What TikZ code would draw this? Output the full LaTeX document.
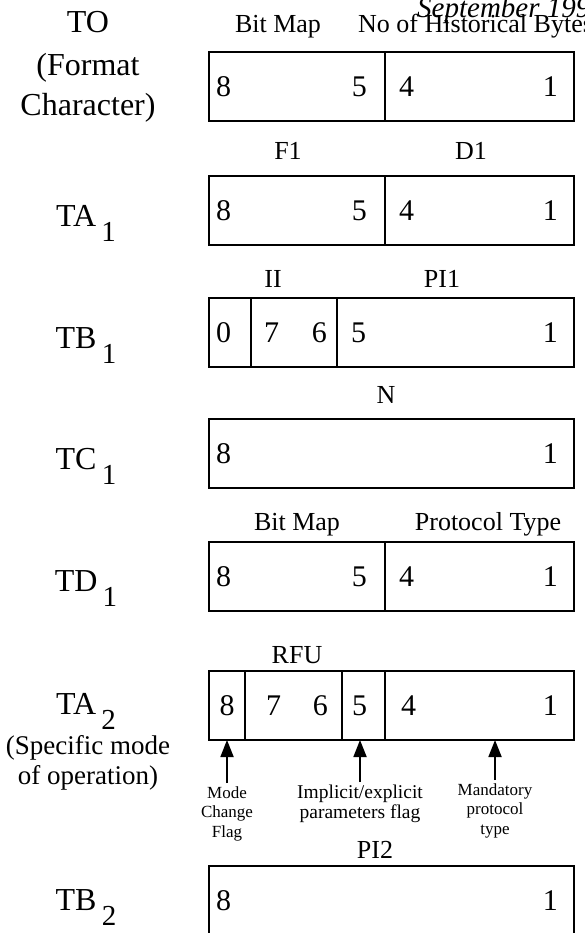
\documentclass[tikz,border=0pt]{standalone}
\usepackage{fontspec}
\setmainfont{Liberation Serif}
\usetikzlibrary{positioning}
\usetikzlibrary{arrows.meta}

\tikzset{
  field/.style={draw,line width=1.8pt,minimum height=69pt,inner sep=0pt,outer sep=0pt,anchor=north west},
  bit/.style={inner sep=0pt,font=\fontsize{30}{30}\selectfont},
  head/.style={inner sep=0pt,anchor=base,font=\fontsize{26}{26}\selectfont},
  reg/.style={inner sep=0pt,anchor=base,align=center,font=\fontsize{32}{40}\selectfont},
  note/.style={inner sep=0pt,anchor=north,align=center,font=\fontsize{17}{19.5}\selectfont},
  flag/.style={-{Triangle[length=17pt,width=13pt]},line width=1.8pt,shorten <=3pt}
}
\newcommand{\sub}[1]{\,\raisebox{-15pt}{\fontsize{29}{29}\selectfont #1}}

\begin{document}
\begin{tikzpicture}[x=1pt,y=-1pt]
\clip (0,0) rectangle (584,933);

% rows split 8..5 | 4..1
\foreach \r/\y in {to/52,taone/176,tdone/542}{
  \node[field,minimum width=176pt] (\r-a) at (209,\y) {};
  \node[field,minimum width=189pt] (\r-b) at (\r-a.north east) {};
  \node[bit,anchor=west] at ([xshift=7pt]\r-a.west) {8};
  \node[bit,anchor=east] at ([xshift=-18pt]\r-a.east) {5};
  \node[bit,anchor=west] at ([xshift=14pt]\r-b.west) {4};
  \node[bit,anchor=east] at ([xshift=-16pt]\r-b.east) {1};
}

% rows with one field 8..1
\foreach \r/\y in {tcone/419,tbtwo/866}{
  \node[field,minimum width=365pt] (\r-a) at (209,\y) {};
  \node[bit,anchor=west] at ([xshift=7pt]\r-a.west) {8};
  \node[bit,anchor=east] at ([xshift=-16pt]\r-a.east) {1};
}

% TB1
\node[field,minimum width=42pt] (tbone-a) at (209,298) {};
\node[field,minimum width=86pt] (tbone-b) at (tbone-a.north east) {};
\node[field,minimum width=237pt] (tbone-c) at (tbone-b.north east) {};
\node[bit,anchor=west] at ([xshift=7pt]tbone-a.west) {0};
\node[bit,anchor=west] at ([xshift=13pt]tbone-b.west) {7};
\node[bit,anchor=east] at ([xshift=-10pt]tbone-b.east) {6};
\node[bit,anchor=west] at ([xshift=14pt]tbone-c.west) {5};
\node[bit,anchor=east] at ([xshift=-16pt]tbone-c.east) {1};

% TA2
\node[field,minimum width=36pt] (tatwo-a) at (209,671) {};
\node[field,minimum width=97pt] (tatwo-b) at (tatwo-a.north east) {};
\node[field,minimum width=43pt] (tatwo-c) at (tatwo-b.north east) {};
\node[field,minimum width=189pt] (tatwo-d) at (tatwo-c.north east) {};
\node[bit] at (tatwo-a.center) {8};
\node[bit,anchor=west] at ([xshift=21pt]tatwo-b.west) {7};
\node[bit,anchor=east] at ([xshift=-14pt]tatwo-b.east) {6};
\node[bit,anchor=west] at ([xshift=10pt]tatwo-c.west) {5};
\node[bit,anchor=west] at ([xshift=16pt]tatwo-d.west) {4};
\node[bit,anchor=east] at ([xshift=-16pt]tatwo-d.east) {1};

% register names
\node[reg] (to) at (88,33) {TO};
\node[reg,anchor=north] (fmt) at (88,53) {(Format\\Character)};
\node[reg] (taone) at (86,226) {TA\sub{1}};
\node[reg] (tbone) at (86,348) {TB\sub{1}};
\node[reg] (tcone) at (86,469) {TC\sub{1}};
\node[reg] (tdone) at (86,591) {TD\sub{1}};
\node[reg] (tatwo) at (86,714) {TA\sub{2}};
\node[reg,anchor=north,font=\fontsize{27}{30}\selectfont] (mode) at (88,735) {(Specific mode\\of operation)};
\node[reg] (tbtwo) at (86,910) {TB\sub{2}};

% field names
\node[head] (bitmap0) at (278,33) {Bit Map};
\node[head,anchor=base west] (hist) at (358,33) {No of Historical Bytes};
\node[anchor=base west,inner sep=0pt,font=\fontsize{29}{29}\selectfont\itshape] (date) at (417,18) {September 1999};
\node[head] (fone) at (288,160) {F1};
\node[head] (done) at (471,160) {D1};
\node[head] (ii) at (273,287) {II};
\node[head] (pione) at (442,287) {PI1};
\node[head] (n) at (386,403) {N};
\node[head] (bitmap1) at (297,530) {Bit Map};
\node[head] (ptype) at (488,530) {Protocol Type};
\node[head] (rfu) at (297,663) {RFU};
\node[head] (pitwo) at (375,858) {PI2};

% flags under TA2
\node[note] (modeflag) at (227,786) {Mode\\Change\\Flag};
\node[note,font=\fontsize{19.5}{20}\selectfont] (impflag) at (360,785) {Implicit/explicit\\parameters flag};
\node[note] (mandflag) at (495,783) {Mandatory\\protocol\\type};
\draw[flag] (modeflag.north) -- (modeflag.north |- tatwo-a.south);
\draw[flag] (impflag.north) -- (impflag.north |- tatwo-c.south);
\draw[flag] (mandflag.north) -- (mandflag.north |- tatwo-d.south);
\end{tikzpicture}
\end{document}
